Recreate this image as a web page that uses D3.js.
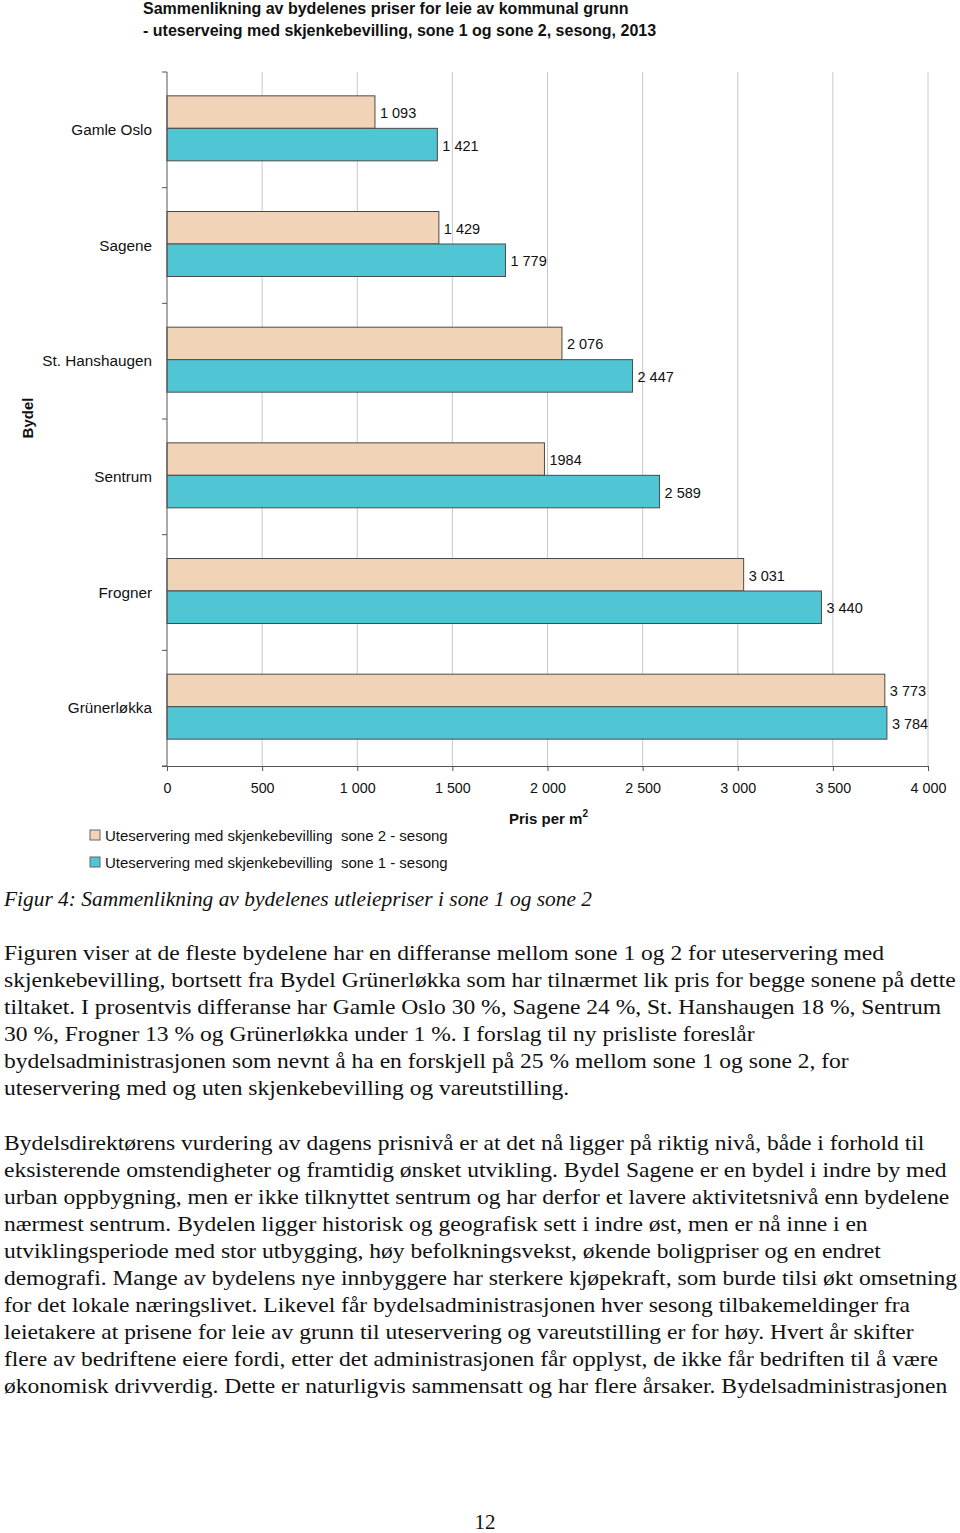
<!DOCTYPE html>
<html><head><meta charset="utf-8">
<script src="https://cdn.jsdelivr.net/npm/d3@7"></script>
<style>body{margin:0;background:#fff}svg{display:block}text{white-space:pre}</style>
</head><body>
<script>
const categories = ["Gamle Oslo","Sagene","St. Hanshaugen","Sentrum","Frogner","Grünerløkka"];
const sone2 = [1093,1429,2076,1984,3031,3773];
const sone1 = [1421,1779,2447,2589,3440,3784];
const sone2Labels = ["1 093","1 429","2 076","1984","3 031","3 773"];
const sone1Labels = ["1 421","1 779","2 447","2 589","3 440","3 784"];
const xTicks = [0,500,1000,1500,2000,2500,3000,3500,4000];
const seriesNames = ["Uteservering med skjenkebevilling  sone 2 - sesong","Uteservering med skjenkebevilling  sone 1 - sesong"];
const colors = ["#F1D3B7","#50C5D4"];
const titleLines = ["Sammenlikning av bydelenes priser for leie av kommunal grunn","- uteserveing med skjenkebevilling, sone 1 og sone 2, sesong, 2013"];
const para1 = ["Figuren viser at de fleste bydelene har en differanse mellom sone 1 og 2 for uteservering med",
"skjenkebevilling, bortsett fra Bydel Grünerløkka som har tilnærmet lik pris for begge sonene på dette",
"tiltaket. I prosentvis differanse har Gamle Oslo 30 %, Sagene 24 %, St. Hanshaugen 18 %, Sentrum",
"30 %, Frogner 13 % og Grünerløkka under 1 %. I forslag til ny prisliste foreslår",
"bydelsadministrasjonen som nevnt å ha en forskjell på 25 % mellom sone 1 og sone 2, for",
"uteservering med og uten skjenkebevilling og vareutstilling."];
const para2 = ["Bydelsdirektørens vurdering av dagens prisnivå er at det nå ligger på riktig nivå, både i forhold til",
"eksisterende omstendigheter og framtidig ønsket utvikling. Bydel Sagene er en bydel i indre by med",
"urban oppbygning, men er ikke tilknyttet sentrum og har derfor et lavere aktivitetsnivå enn bydelene",
"nærmest sentrum. Bydelen ligger historisk og geografisk sett i indre øst, men er nå inne i en",
"utviklingsperiode med stor utbygging, høy befolkningsvekst, økende boligpriser og en endret",
"demografi. Mange av bydelens nye innbyggere har sterkere kjøpekraft, som burde tilsi økt omsetning",
"for det lokale næringslivet. Likevel får bydelsadministrasjonen hver sesong tilbakemeldinger fra",
"leietakere at prisene for leie av grunn til uteservering og vareutstilling er for høy. Hvert år skifter",
"flere av bedriftene eiere fordi, etter det administrasjonen får opplyst, de ikke får bedriften til å være",
"økonomisk drivverdig. Dette er naturligvis sammensatt og har flere årsaker. Bydelsadministrasjonen"];

const svg = d3.select("body").append("svg").attr("width",960).attr("height",1533);
const sans = "Liberation Sans, Arial, sans-serif";
const serif = "Liberation Serif, Times New Roman, serif";

// title
svg.append("g").selectAll("text").data(titleLines).join("text")
  .attr("x",143).attr("y",(d,i)=>14+i*22).attr("font-family",sans).attr("font-weight","bold")
  .attr("font-size",16).attr("fill","#111").text(d=>d);

const x = d3.scaleLinear().domain([0,4000]).range([167,928]);
const y = d3.scaleBand().domain(categories).range([72,766]).padding(0);
const inner = d3.scaleBand().domain([0,1]).range([0,y.bandwidth()]).paddingInner(0).paddingOuter(0.78);

// gridlines
svg.append("g").selectAll("line").data(xTicks.slice(1)).join("line")
  .attr("x1",d=>x(d)).attr("x2",d=>x(d)).attr("y1",72).attr("y2",766)
  .attr("stroke","#c8c8c8").attr("stroke-width",1);

// bars
const series = [sone2, sone1];
const labels = [sone2Labels, sone1Labels];
series.forEach((vals,si)=>{
  const g = svg.append("g");
  g.selectAll("rect").data(vals).join("rect")
    .attr("x",x(0)).attr("y",(d,i)=>y(categories[i])+inner(si)-1.5)
    .attr("width",d=>x(d)-x(0)).attr("height",inner.bandwidth())
    .attr("fill",colors[si]).attr("stroke","#4a4a4a").attr("stroke-width",1);
  g.selectAll("text").data(vals).join("text")
    .attr("x",d=>x(d)+5).attr("y",(d,i)=>y(categories[i])+inner(si)-1.5+inner.bandwidth()/2+6)
    .attr("font-family",sans).attr("font-size",14.5).attr("fill","#111")
    .text((d,i)=>labels[si][i]);
});

// y axis
const yAxis = svg.append("g").attr("transform","translate(167,0)");
yAxis.append("line").attr("x1",0).attr("x2",0).attr("y1",72).attr("y2",766).attr("stroke","#555");
const bounds = categories.map(c=>y(c)).concat([766]);
yAxis.selectAll("line.t").data(bounds).join("line").attr("class","t")
  .attr("x1",-5).attr("x2",0).attr("y1",d=>d).attr("y2",d=>d).attr("stroke","#555");
svg.append("g").selectAll("text").data(categories).join("text")
  .attr("x",152).attr("y",d=>y(d)+y.bandwidth()/2+5).attr("text-anchor","end")
  .attr("font-family",sans).attr("font-size",15.3).attr("fill","#111").text(d=>d);

// x axis
const fmt = d3.formatLocale({thousands:" ",grouping:[3],decimal:",",currency:["",""]}).format(",");
const xAxis = svg.append("g").attr("transform","translate(0,766)")
  .call(d3.axisBottom(x).tickValues(xTicks).tickSize(5).tickPadding(12).tickFormat(fmt));
xAxis.select(".domain").attr("stroke","#555").attr("d","M162,0.5H928");
xAxis.selectAll(".tick line").attr("stroke","#555");
xAxis.selectAll(".tick text").attr("font-family",sans).attr("font-size",14.3).attr("fill","#111");

// axis titles
const xt = svg.append("text").attr("x",509).attr("y",824).attr("font-family",sans)
  .attr("font-weight","bold").attr("font-size",15).attr("fill","#111");
xt.append("tspan").text("Pris per m");
xt.append("tspan").attr("font-size",10).attr("dy",-7).text("2");
svg.append("text").attr("transform","translate(33,418) rotate(-90)").attr("text-anchor","middle")
  .attr("font-family",sans).attr("font-weight","bold").attr("font-size",15).attr("fill","#111").text("Bydel");

// legend
const lg = svg.append("g").selectAll("g").data(seriesNames).join("g")
  .attr("transform",(d,i)=>`translate(90,${830+i*27})`);
lg.append("rect").attr("width",10).attr("height",10).attr("fill",(d,i)=>colors[i]).attr("stroke","#666");
lg.append("text").attr("x",15).attr("y",10.5).attr("font-family",sans).attr("font-size",15).attr("fill","#111").text(d=>d);

// caption
svg.append("text").attr("transform","translate(4,906) scale(1.045,1)").attr("font-family",serif).attr("font-style","italic")
  .attr("font-size",20.5).attr("fill","#111").text("Figur 4: Sammenlikning av bydelenes utleiepriser i sone 1 og sone 2");

// paragraphs
svg.append("g").attr("transform","translate(4,0) scale(1.07,1)").selectAll("text").data(para1).join("text")
  .attr("x",0).attr("y",(d,i)=>960+i*27).attr("font-family",serif).attr("font-size",22).attr("fill","#111").text(d=>d);
svg.append("g").attr("transform","translate(4,0) scale(1.07,1)").selectAll("text").data(para2).join("text")
  .attr("x",0).attr("y",(d,i)=>1150+i*27).attr("font-family",serif).attr("font-size",22).attr("fill","#111").text(d=>d);

svg.append("text").attr("x",485).attr("y",1529).attr("text-anchor","middle").attr("font-family",serif)
  .attr("font-size",21).attr("fill","#111").text("12");
</script>
</body></html>
